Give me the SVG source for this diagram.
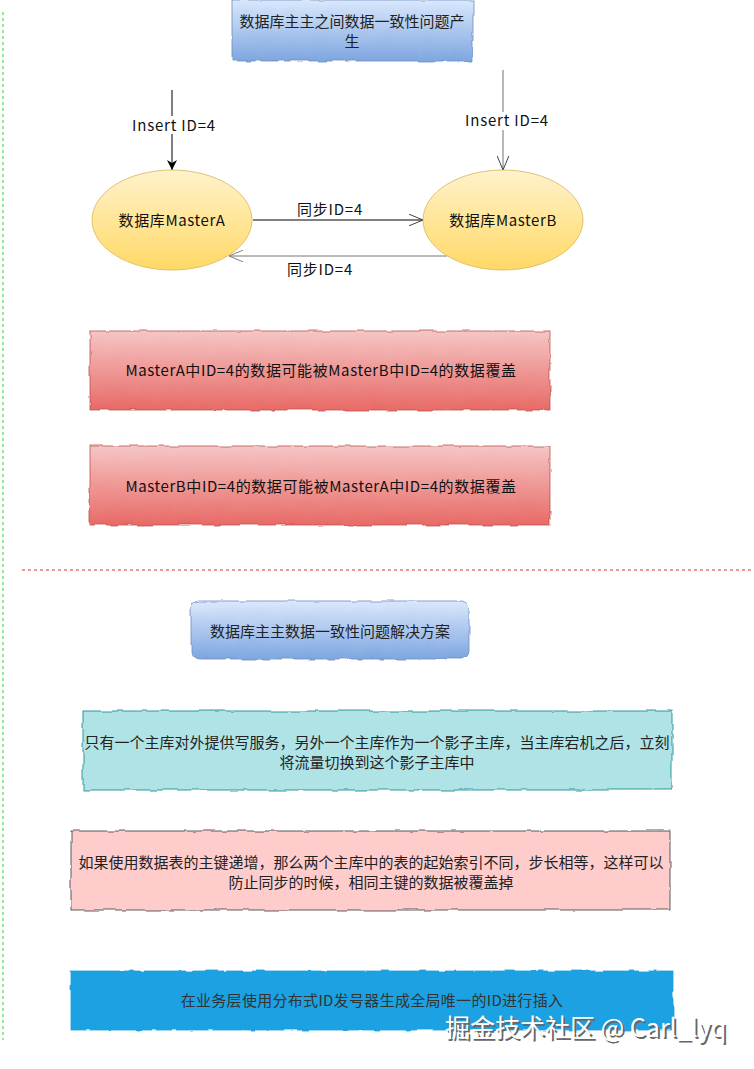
<svg xmlns="http://www.w3.org/2000/svg" width="754" height="1069" viewBox="0 0 754 1069">
<style>
.t{font-family:"Noto Sans CJK SC","Liberation Sans",sans-serif;font-size:15px;fill:#222;text-anchor:middle}
.c{font-family:"Noto Sans CJK SC","Liberation Sans",sans-serif;font-size:15px;fill:#111;text-anchor:middle;letter-spacing:0.6px}
.rough{filter:url(#wob)}
.lbl{font-family:"Noto Sans CJK SC","Liberation Sans",sans-serif;font-size:15px;fill:#111;text-anchor:middle;letter-spacing:0.8px}
</style>
<defs>
<filter id="wob" x="-5%" y="-10%" width="110%" height="120%">
<feTurbulence type="fractalNoise" baseFrequency="0.06" numOctaves="2" seed="3" result="n"/>
<feDisplacementMap in="SourceGraphic" in2="n" scale="4" xChannelSelector="R" yChannelSelector="G"/>
</filter>
<linearGradient id="gBlue" x1="0" y1="0" x2="0" y2="1"><stop offset="0" stop-color="#dae8fc"/><stop offset="1" stop-color="#7ea6e0"/></linearGradient>
<linearGradient id="gRed" x1="0" y1="0" x2="0" y2="1"><stop offset="0" stop-color="#f5c6c5"/><stop offset="1" stop-color="#e86a66"/></linearGradient>
<linearGradient id="gYel" x1="0" y1="0" x2="0" y2="1"><stop offset="0" stop-color="#fff2cc"/><stop offset="1" stop-color="#ffd966"/></linearGradient>
<marker id="mFill" viewBox="0 0 10 10" refX="10" refY="5" markerWidth="10" markerHeight="10" markerUnits="userSpaceOnUse" orient="auto"><path d="M0,0 L10,5 L0,10 L3,5 Z" fill="#000"/></marker>
<marker id="mOpen" viewBox="0 0 12 10" refX="12" refY="5" markerWidth="14" markerHeight="12" markerUnits="userSpaceOnUse" orient="auto"><path d="M0,0 L12,5 L0,10" fill="none" stroke="#333" stroke-width="0.8"/></marker>
<marker id="mOpenG" viewBox="0 0 12 10" refX="12" refY="5" markerWidth="14" markerHeight="12" markerUnits="userSpaceOnUse" orient="auto"><path d="M0,0 L12,5 L0,10" fill="none" stroke="#777" stroke-width="0.8"/></marker>
</defs>
<rect width="754" height="1069" fill="#fff"/>
<line x1="3" y1="12" x2="3" y2="1040" stroke="#33cc33" stroke-width="1" stroke-dasharray="3,3"/>
<line x1="22" y1="570" x2="754" y2="570" stroke="#e03030" stroke-width="1" stroke-dasharray="3,3"/>

<g id="connectors">
<line x1="172" y1="90" x2="172" y2="170" stroke="#000" stroke-width="1" marker-end="url(#mFill)"/>
<rect x="128" y="116" width="92" height="18" fill="#fff"/>
<text class="lbl" x="174" y="131">Insert ID=4</text>
<line x1="503" y1="70" x2="503" y2="170" stroke="#333" stroke-width="0.7" marker-end="url(#mOpen)"/>
<rect x="461" y="112" width="92" height="18" fill="#fff"/>
<text class="lbl" x="507" y="126">Insert ID=4</text>
<line x1="253" y1="220" x2="423" y2="220" stroke="#000" stroke-width="1" marker-end="url(#mOpen)"/>
<text class="lbl" x="330" y="215">同步ID=4</text>
<line x1="447" y1="256" x2="229" y2="256" stroke="#777" stroke-width="1" marker-end="url(#mOpenG)"/>
<text class="lbl" x="320" y="275">同步ID=4</text>
</g>

<g id="title1">
<rect class="rough" x="232" y="0" width="241" height="61" fill="url(#gBlue)" stroke="#6c8ebf" stroke-width="0.8"/>
<text class="t" x="352" y="27">数据库主主之间数据一致性问题产</text>
<text class="t" x="352" y="47">生</text>
</g>

<g id="masterA">
<ellipse cx="172" cy="220" rx="80" ry="50" fill="url(#gYel)" stroke="#d6b656" stroke-width="0.8"/>
<text class="c" x="172" y="226">数据库MasterA</text>
</g>
<g id="masterB">
<ellipse cx="503" cy="220" rx="80" ry="50" fill="url(#gYel)" stroke="#d6b656" stroke-width="0.8"/>
<text class="c" x="503" y="226">数据库MasterB</text>
</g>

<g id="issueA">
<rect class="rough" x="90" y="331" width="460" height="79" fill="url(#gRed)" stroke="#b85450" stroke-width="0.8"/>
<text class="c" x="321" y="376">MasterA中ID=4的数据可能被MasterB中ID=4的数据覆盖</text>
</g>
<g id="issueB">
<rect class="rough" x="90" y="446" width="460" height="79" fill="url(#gRed)" stroke="#b85450" stroke-width="0.8"/>
<text class="c" x="321" y="492">MasterB中ID=4的数据可能被MasterA中ID=4的数据覆盖</text>
</g>

<g id="title2">
<rect class="rough" x="191" y="601" width="278" height="58" rx="8" fill="url(#gBlue)" stroke="#6c8ebf" stroke-width="0.8"/>
<text class="t" x="330" y="637">数据库主主数据一致性问题解决方案</text>
</g>

<g id="sol1">
<rect class="rough" x="83" y="711" width="589" height="79" fill="#b0e3e6" stroke="#0e8088" stroke-width="0.8"/>
<text class="t" x="377" y="748">只有一个主库对外提供写服务，另外一个主库作为一个影子主库，当主库宕机之后，立刻</text>
<text class="t" x="377" y="768">将流量切换到这个影子主库中</text>
</g>
<g id="sol2">
<rect class="rough" x="71" y="831" width="599" height="79" fill="#ffcccc" stroke="#36393d" stroke-width="0.8"/>
<text class="t" x="371" y="868">如果使用数据表的主键递增，那么两个主库中的表的起始索引不同，步长相等，这样可以</text>
<text class="t" x="371" y="888">防止同步的时候，相同主键的数据被覆盖掉</text>
</g>
<g id="sol3">
<rect class="rough" x="71" y="971" width="602" height="59" fill="#1ba1e2" stroke="#1ba1e2" stroke-width="0.8"/>
<text class="t" x="372" y="1006" style="fill:#333;letter-spacing:0.3px">在业务层使用分布式ID发号器生成全局唯一的ID进行插入</text>
</g>

<text x="447" y="1039" font-family="Noto Sans CJK SC, Liberation Sans, sans-serif" font-size="25" fill="#666">掘金技术社区 @ Carl_lyq</text>
<text x="445" y="1037" font-family="Noto Sans CJK SC, Liberation Sans, sans-serif" font-size="25" fill="#fff">掘金技术社区 @ Carl_lyq</text>
</svg>
